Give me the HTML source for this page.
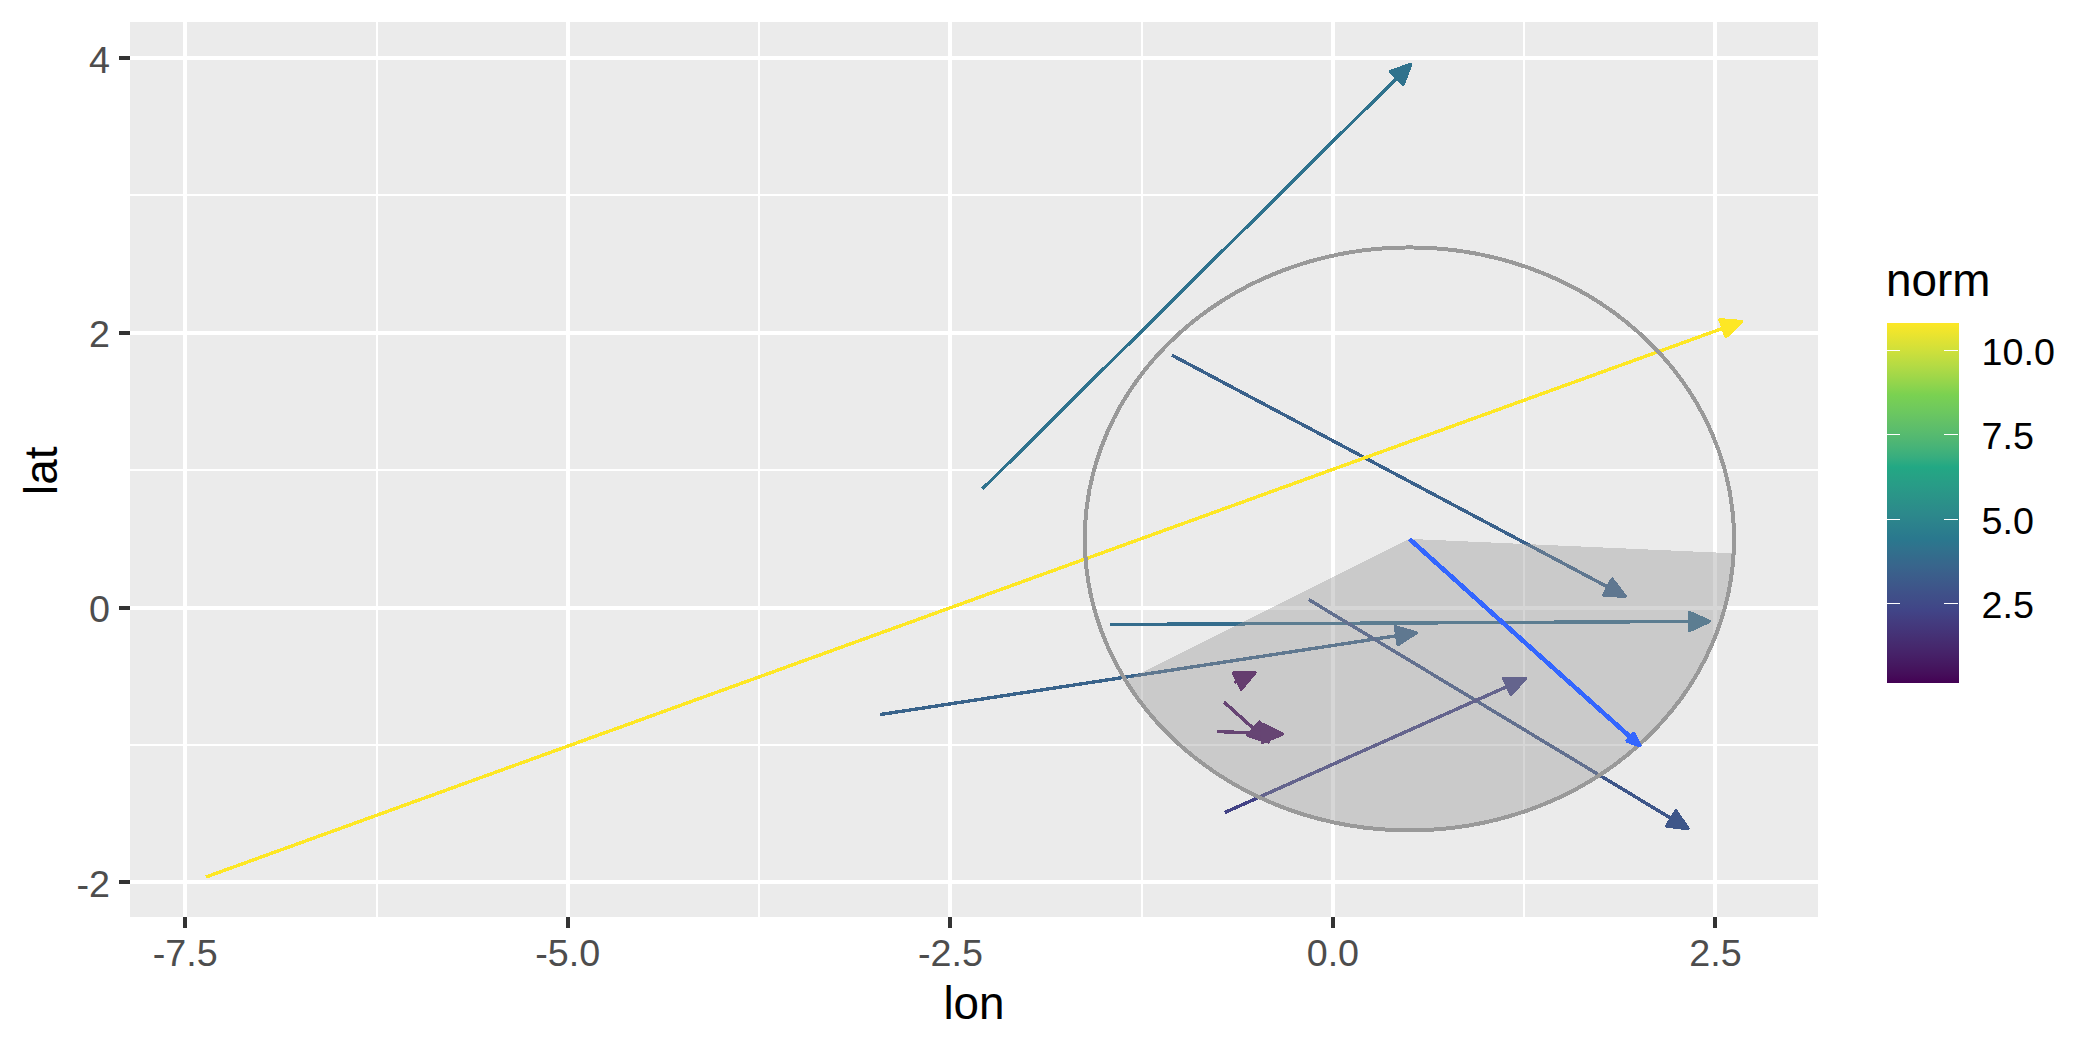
<!DOCTYPE html>
<html><head><meta charset="utf-8"><title>plot</title>
<style>html,body{margin:0;padding:0;background:#fff;}body{width:2100px;height:1050px;overflow:hidden;}svg{display:block;}text{font-family:"Liberation Sans",sans-serif;}.at{font-size:37.7px;fill:#4D4D4D;}.ti{font-size:45.83px;fill:#000;}.lt{font-size:37.7px;fill:#000;}</style></head><body>
<svg width="2100" height="1050" viewBox="0 0 2100 1050">
<defs><linearGradient id="vg" x1="0" y1="0" x2="0" y2="1"><stop offset="0.0000" stop-color="#FDE725"/><stop offset="0.0250" stop-color="#EEE52D"/><stop offset="0.0500" stop-color="#DFE234"/><stop offset="0.0750" stop-color="#D0E03A"/><stop offset="0.1000" stop-color="#C0DD40"/><stop offset="0.1250" stop-color="#B0DA45"/><stop offset="0.1500" stop-color="#9FD749"/><stop offset="0.1750" stop-color="#8DD44D"/><stop offset="0.2000" stop-color="#7AD151"/><stop offset="0.2250" stop-color="#73CC59"/><stop offset="0.2500" stop-color="#6BC760"/><stop offset="0.2750" stop-color="#63C167"/><stop offset="0.3000" stop-color="#5ABC6D"/><stop offset="0.3250" stop-color="#50B773"/><stop offset="0.3500" stop-color="#44B279"/><stop offset="0.3750" stop-color="#36AD7F"/><stop offset="0.4000" stop-color="#22A884"/><stop offset="0.4250" stop-color="#26A285"/><stop offset="0.4500" stop-color="#289C87"/><stop offset="0.4750" stop-color="#2A9688"/><stop offset="0.5000" stop-color="#2B9089"/><stop offset="0.5250" stop-color="#2C8A8B"/><stop offset="0.5500" stop-color="#2C848C"/><stop offset="0.5750" stop-color="#2B7E8D"/><stop offset="0.6000" stop-color="#2A788E"/><stop offset="0.6250" stop-color="#30728D"/><stop offset="0.6500" stop-color="#346B8C"/><stop offset="0.6750" stop-color="#38658C"/><stop offset="0.7000" stop-color="#3B5E8B"/><stop offset="0.7250" stop-color="#3D588A"/><stop offset="0.7500" stop-color="#3F5189"/><stop offset="0.7750" stop-color="#404B88"/><stop offset="0.8000" stop-color="#414487"/><stop offset="0.8250" stop-color="#433D80"/><stop offset="0.8500" stop-color="#44367A"/><stop offset="0.8750" stop-color="#452F73"/><stop offset="0.9000" stop-color="#46286D"/><stop offset="0.9250" stop-color="#462067"/><stop offset="0.9500" stop-color="#451860"/><stop offset="0.9750" stop-color="#450E5A"/><stop offset="1.0000" stop-color="#440154"/></linearGradient><clipPath id="pc"><rect x="130" y="22" width="1688" height="895"/></clipPath></defs>
<rect x="0" y="0" width="2100" height="1050" fill="#FFFFFF"/>
<rect x="130" y="22" width="1688" height="895" fill="#EBEBEB"/>
<g shape-rendering="crispEdges" fill="#FFFFFF"><rect x="376" y="22" width="2" height="895"/><rect x="758" y="22" width="2" height="895"/><rect x="1141" y="22" width="2" height="895"/><rect x="1523" y="22" width="2" height="895"/><rect x="130" y="194" width="1688" height="2"/><rect x="130" y="469" width="1688" height="2"/><rect x="130" y="744" width="1688" height="2"/><rect x="183" y="22" width="4" height="895"/><rect x="566" y="22" width="4" height="895"/><rect x="948" y="22" width="4" height="895"/><rect x="1331" y="22" width="4" height="895"/><rect x="1713" y="22" width="4" height="895"/><rect x="130" y="56" width="1688" height="4"/><rect x="130" y="331" width="1688" height="4"/><rect x="130" y="606" width="1688" height="4"/><rect x="130" y="880" width="1688" height="4"/></g>
<g clip-path="url(#pc)" shape-rendering="crispEdges" stroke-linecap="butt">
<line x1="982.4" y1="489.0" x2="1410.8" y2="64.2" stroke="#2F728D" stroke-width="3.40"/><polygon points="1403.2,84.3 1410.8,64.2 1390.6,71.6" fill="#2F728D" stroke="#2F728D" stroke-width="3.40" stroke-linejoin="round"/>
<line x1="1172.0" y1="355.2" x2="1625.2" y2="596.3" stroke="#3A618B" stroke-width="3.40"/><polygon points="1603.7,595.0 1625.2,596.3 1612.1,579.2" fill="#3A618B" stroke="#3A618B" stroke-width="3.40" stroke-linejoin="round"/>
<line x1="206.0" y1="877.0" x2="1741.4" y2="321.6" stroke="#FDE725" stroke-width="3.40"/><polygon points="1726.0,336.6 1741.4,321.6 1720.0,319.8" fill="#FDE725" stroke="#FDE725" stroke-width="3.40" stroke-linejoin="round"/>
<line x1="1110.3" y1="624.5" x2="1709.3" y2="621.4" stroke="#346C8C" stroke-width="3.40"/><polygon points="1689.8,630.4 1709.3,621.4 1689.7,612.6" fill="#346C8C" stroke="#346C8C" stroke-width="3.40" stroke-linejoin="round"/>
<line x1="880.0" y1="714.6" x2="1416.1" y2="632.8" stroke="#39638B" stroke-width="3.40"/><polygon points="1398.1,644.5 1416.1,632.8 1395.4,626.9" fill="#39638B" stroke="#39638B" stroke-width="3.40" stroke-linejoin="round"/>
<line x1="1308.6" y1="599.5" x2="1688.0" y2="828.6" stroke="#3E5689" stroke-width="3.40"/><polygon points="1666.7,826.1 1688.0,828.6 1675.9,810.9" fill="#3E5689" stroke="#3E5689" stroke-width="3.40" stroke-linejoin="round"/>
<line x1="1224.6" y1="812.6" x2="1525.2" y2="678.5" stroke="#424285" stroke-width="3.40"/><polygon points="1511.0,694.6 1525.2,678.5 1503.7,678.3" fill="#424285" stroke="#424285" stroke-width="3.40" stroke-linejoin="round"/>
<line x1="1234.5" y1="682.5" x2="1255.1" y2="672.5" stroke="#440154" stroke-width="3.40"/><polygon points="1241.3,689.1 1255.1,672.5 1233.6,673.0" fill="#440154" stroke="#440154" stroke-width="3.40" stroke-linejoin="round"/>
<line x1="1224.0" y1="702.0" x2="1268.3" y2="741.9" stroke="#450D5A" stroke-width="3.40"/><polygon points="1247.8,735.4 1268.3,741.9 1259.7,722.2" fill="#450D5A" stroke="#450D5A" stroke-width="3.40" stroke-linejoin="round"/>
<line x1="1216.6" y1="731.5" x2="1282.3" y2="734.2" stroke="#450E5A" stroke-width="3.40"/><polygon points="1262.4,742.3 1282.3,734.2 1263.1,724.5" fill="#450E5A" stroke="#450E5A" stroke-width="3.40" stroke-linejoin="round"/>
<polygon points="1409.4,538.9 1733.6,553.3 1733.2,559.6 1732.6,565.8 1731.9,572.1 1731.0,578.3 1730.0,584.5 1728.9,590.7 1727.5,596.8 1726.1,603.0 1724.5,609.1 1722.7,615.2 1720.8,621.2 1718.8,627.2 1716.6,633.2 1714.2,639.1 1711.8,645.0 1709.1,650.8 1706.4,656.6 1703.5,662.3 1700.5,667.9 1697.3,673.5 1694.0,679.1 1690.6,684.5 1687.0,689.9 1683.3,695.3 1679.5,700.5 1675.6,705.7 1671.5,710.8 1667.4,715.8 1663.0,720.8 1658.6,725.7 1654.1,730.4 1649.4,735.1 1644.7,739.7 1639.8,744.2 1634.8,748.6 1629.7,752.9 1624.6,757.1 1619.3,761.3 1613.9,765.3 1608.4,769.2 1602.9,773.0 1597.2,776.6 1591.5,780.2 1585.6,783.7 1579.7,787.0 1573.7,790.3 1567.7,793.4 1561.5,796.4 1555.3,799.3 1549.0,802.0 1542.7,804.7 1536.3,807.2 1529.8,809.6 1523.3,811.8 1516.7,814.0 1510.1,816.0 1503.4,817.9 1496.7,819.6 1490.0,821.3 1483.2,822.7 1476.4,824.1 1469.5,825.3 1462.6,826.4 1455.7,827.4 1448.8,828.2 1441.8,828.9 1434.9,829.5 1427.9,829.9 1420.9,830.2 1413.9,830.3 1406.9,830.4 1399.9,830.2 1393.0,830.0 1386.0,829.6 1379.0,829.1 1372.1,828.4 1365.1,827.6 1358.2,826.7 1351.3,825.7 1344.5,824.5 1337.6,823.2 1330.8,821.7 1324.1,820.1 1317.3,818.4 1310.6,816.6 1304.0,814.6 1297.4,812.5 1290.9,810.2 1284.4,807.9 1278.0,805.4 1271.6,802.8 1265.3,800.1 1259.1,797.2 1252.9,794.3 1246.9,791.2 1240.8,788.0 1234.9,784.7 1229.1,781.2 1223.3,777.7 1217.6,774.0 1212.0,770.3 1206.5,766.4 1201.1,762.4 1195.8,758.3 1190.6,754.2 1185.5,749.9 1180.4,745.5 1175.5,741.0 1170.8,736.5 1166.1,731.8 1161.5,727.1 1157.0,722.2 1152.7,717.3 1148.5,712.3 1144.4,707.2 1140.4,702.0 1136.6,696.8 1132.8,691.5 1129.2,686.1 1125.8,680.7" fill="#999999" fill-opacity="0.4" stroke="none"/>
<ellipse cx="1409.4" cy="538.9" rx="324.6" ry="291.5" fill="none" stroke="#999999" stroke-width="4"/>
<line x1="1409.4" y1="538.9" x2="1639.4" y2="745.2" stroke="#3366FF" stroke-width="4.60"/><polygon points="1627.6,740.7 1639.4,745.2 1633.6,734.0" fill="#3366FF" stroke="#3366FF" stroke-width="4.40" stroke-linejoin="round"/>
</g>
<g shape-rendering="crispEdges" fill="#333333"><rect x="183" y="917" width="4" height="11"/><rect x="566" y="917" width="4" height="11"/><rect x="948" y="917" width="4" height="11"/><rect x="1331" y="917" width="4" height="11"/><rect x="1713" y="917" width="4" height="11"/><rect x="119" y="56" width="11" height="4"/><rect x="119" y="331" width="11" height="4"/><rect x="119" y="606" width="11" height="4"/><rect x="119" y="880" width="11" height="4"/></g>
<text class="at" x="185.2" y="966" text-anchor="middle">-7.5</text>
<text class="at" x="567.8" y="966" text-anchor="middle">-5.0</text>
<text class="at" x="950.4" y="966" text-anchor="middle">-2.5</text>
<text class="at" x="1332.9" y="966" text-anchor="middle">0.0</text>
<text class="at" x="1715.5" y="966" text-anchor="middle">2.5</text>
<text class="at" x="110" y="72.6" text-anchor="end">4</text>
<text class="at" x="110" y="347.4" text-anchor="end">2</text>
<text class="at" x="110" y="622.2" text-anchor="end">0</text>
<text class="at" x="110" y="897.0" text-anchor="end">-2</text>
<text class="ti" x="974" y="1019" text-anchor="middle">lon</text>
<text class="ti" transform="translate(57,470.8) rotate(-90)" text-anchor="middle">lat</text>
<text class="ti" x="1886" y="296">norm</text>
<rect x="1887" y="323" width="72" height="360" fill="url(#vg)"/>
<g shape-rendering="crispEdges" fill="#FFFFFF"><rect x="1887" y="350" width="13" height="1"/><rect x="1944" y="350" width="14" height="1"/><rect x="1887" y="434" width="13" height="1"/><rect x="1944" y="434" width="14" height="1"/><rect x="1887" y="519" width="13" height="1"/><rect x="1944" y="519" width="14" height="1"/><rect x="1887" y="603" width="13" height="1"/><rect x="1944" y="603" width="14" height="1"/></g>
<text class="lt" x="1981.5" y="365.0">10.0</text>
<text class="lt" x="1981.5" y="449.0">7.5</text>
<text class="lt" x="1981.5" y="534.0">5.0</text>
<text class="lt" x="1981.5" y="618.0">2.5</text>
</svg></body></html>
